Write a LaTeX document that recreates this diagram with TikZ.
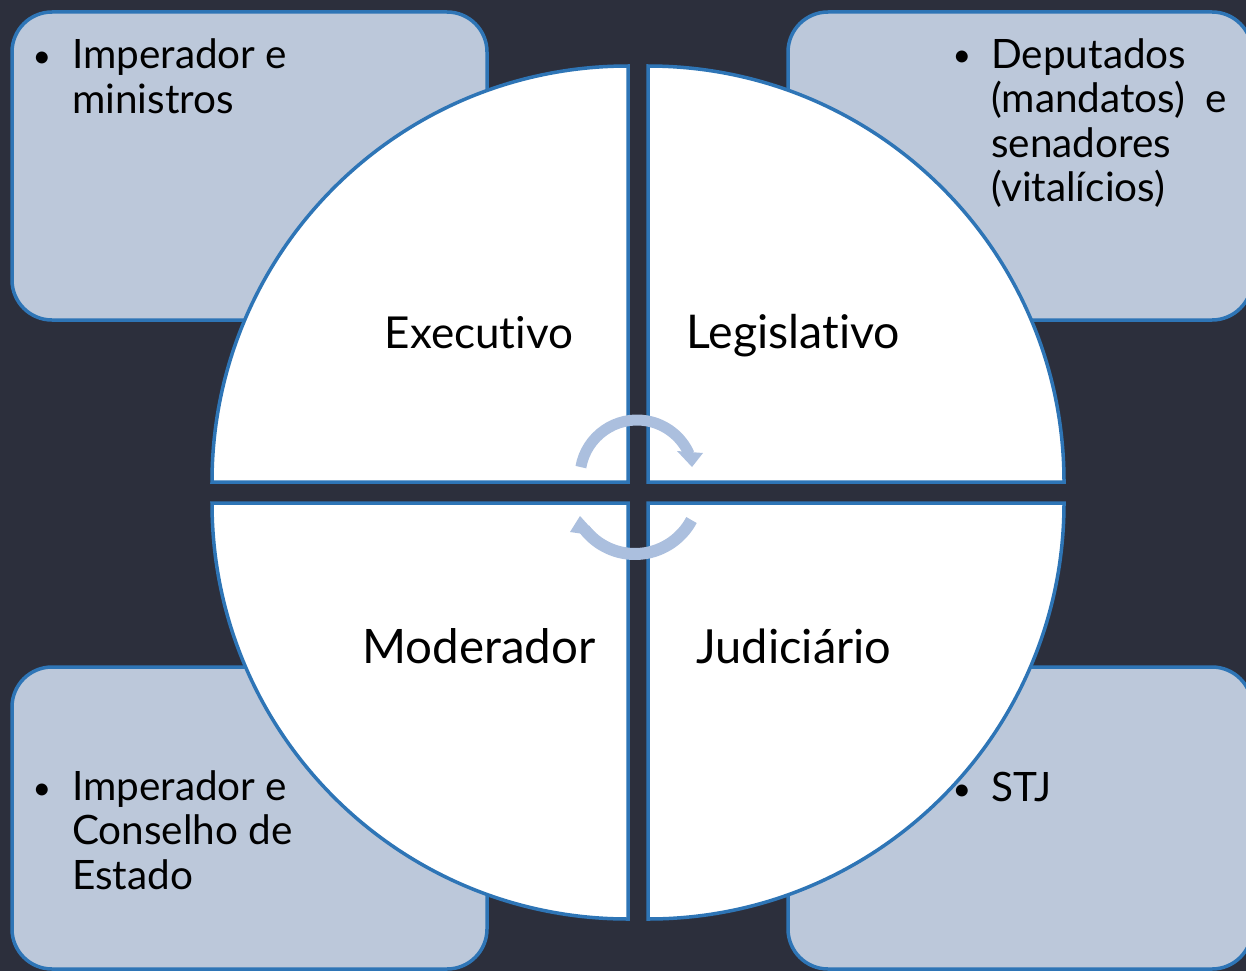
\documentclass[tikz,border=0pt]{standalone}
\usepackage{fontspec}
\setmainfont[Ligatures={NoCommon}]{Lato}
\definecolor{bg}{HTML}{2C2F3C}
\definecolor{boxfill}{HTML}{BCC8DA}
\definecolor{blueline}{HTML}{2E75B6}
\definecolor{arrowcol}{HTML}{ABBFDE}
\tikzset{
  boxsty/.style={fill=boxfill, draw=blueline, line width=3.5pt, rounded corners=40pt},
  quadsty/.style={fill=white, draw=blueline, line width=3.5pt},
  cyclearc/.style={draw=arrowcol, line width=11pt},
  arrowhead/.style={fill=arrowcol},
  boxtext/.style={inner sep=0pt, anchor=base west, align=left, font=\fontsize{40.5}{44.5}\selectfont},
  bulletsty/.style={inner sep=0pt, anchor=base, font=\fontsize{32}{44.5}\selectfont},
  label/.style={inner sep=0pt, anchor=base}
}
\begin{document}
\begin{tikzpicture}[x=1pt,y=1pt]
\fill[bg] (0,0) rectangle (1246,-971);
\useasboundingbox (0,0) rectangle (1246,-971);
% corner boxes
\path[boxsty] (12,-12) rectangle (487,-320);
\path[boxsty] (788,-12) rectangle (1252,-320);
\path[boxsty] (12,-667) rectangle (487,-969);
\path[boxsty] (788,-667) rectangle (1252,-969);
% quadrants
\path[quadsty] (628,-482) -- (212,-482) arc[start angle=180,end angle=90,radius=416] -- cycle;
\path[quadsty] (648,-482) -- (648,-66) arc[start angle=90,end angle=0,radius=416] -- cycle;
\path[quadsty] (628,-503) -- (628,-919) arc[start angle=270,end angle=180,radius=416] -- cycle;
\path[quadsty] (648,-503) -- (1064,-503) arc[start angle=0,end angle=-90,radius=416] -- cycle;
% cycle arrows
\coordinate (ctop) at (637,-477);
\coordinate (cbot) at (635,-490);
\draw[cyclearc] (ctop) ++(170:57) arc[start angle=170,end angle=24,radius=57];
\fill[arrowhead] (677,-451) -- (703,-453) -- (692,-467) -- cycle;
\draw[cyclearc, line width=12pt] (cbot) ++(-28:64) arc[start angle=-28,end angle=-142,radius=64];
\fill[arrowhead] (570,-532) -- (580,-516) -- (598,-536) -- cycle;
% quadrant labels
\node[label, font=\fontsize{44}{50}\selectfont] (exe) at (479,-348) {Executivo};
\node[label, font=\fontsize{46.5}{50}\selectfont] (leg) at (793,-348) {Legislativo};
\node[label, font=\fontsize{47.5}{50}\selectfont] (mod) at (479,-663) {Moderador};
\node[label, font=\fontsize{47}{50}\selectfont] (jud) at (794,-663) {Judiciário};
% box texts (base anchor = baseline of last line)
\node[bulletsty] (b1) at (42,-68) {•};
\node[boxtext] (t1) at (72,-113.5) {Imperador e\\ministros};
\node[bulletsty] (b2) at (962,-67) {•};
\node[boxtext] (t2) at (991,-201.5) {Deputados\\(mandatos)~ e\\senadores\\(vitalícios)};
\node[bulletsty] (b3) at (42,-799) {•};
\node[boxtext] (t3) at (72,-889) {Imperador e\\Conselho de\\Estado};
\node[bulletsty] (b4) at (962,-800) {•};
\node[boxtext] (t4) at (991,-801) {STJ};
\end{tikzpicture}
\end{document}
